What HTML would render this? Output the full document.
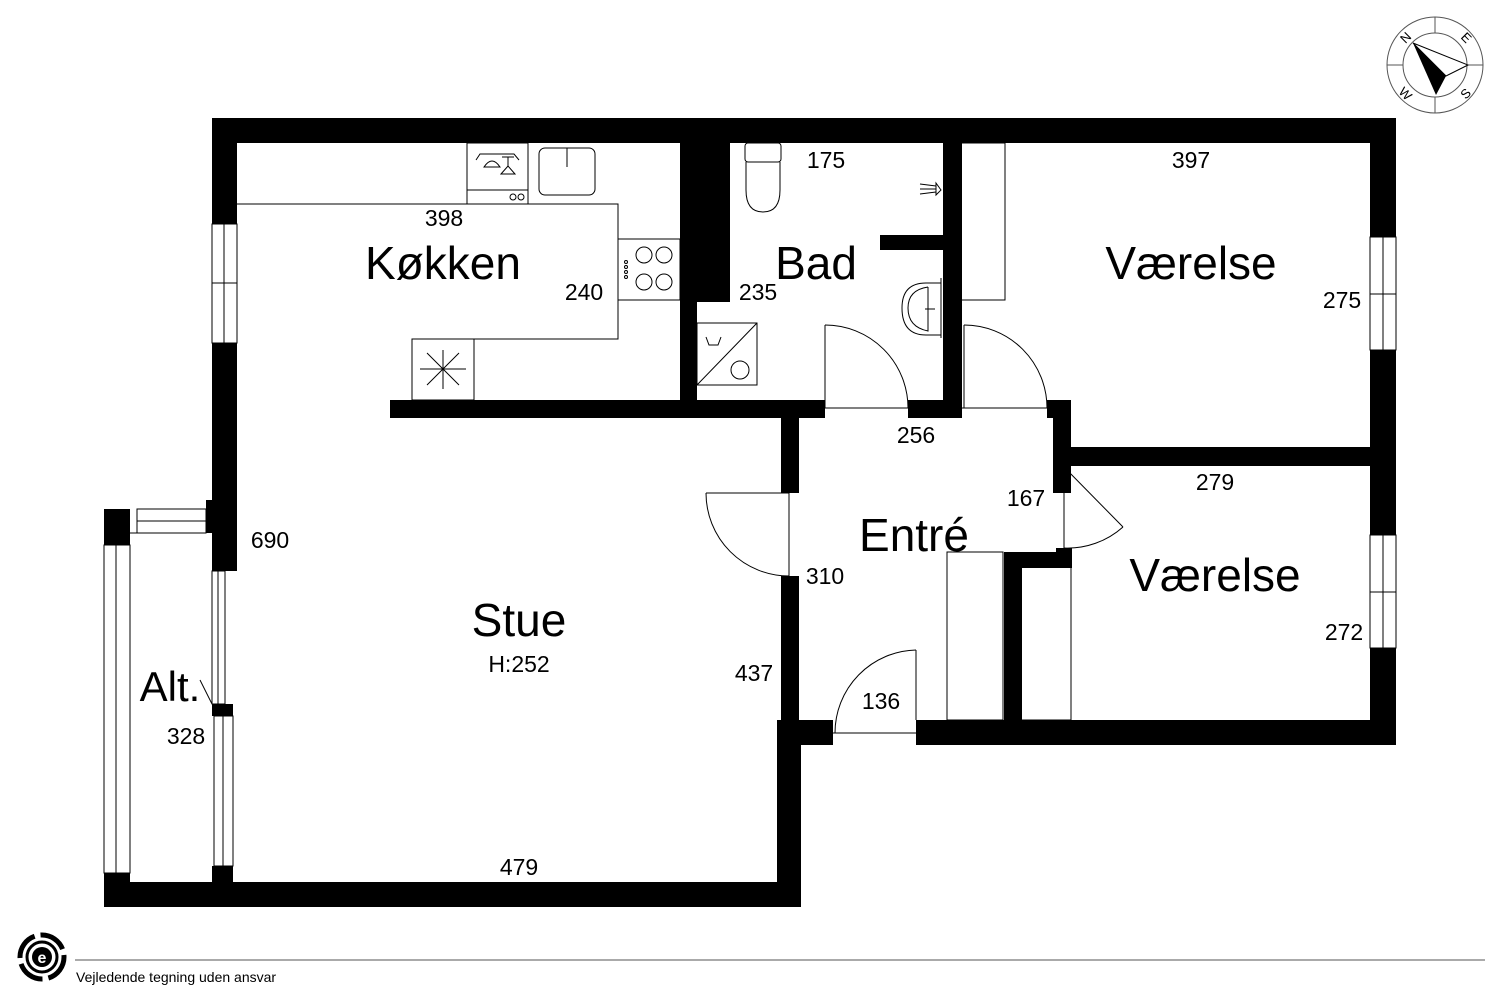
<!DOCTYPE html>
<html><head><meta charset="utf-8"><style>
html,body{margin:0;padding:0;background:#fff;}
svg{display:block;}
text{font-family:"Liberation Sans",Arial,sans-serif;fill:#000;}
</style></head><body>
<svg width="1500" height="1000" viewBox="0 0 1500 1000" xmlns="http://www.w3.org/2000/svg">
<rect width="1500" height="1000" fill="#fff"/>
<g fill="#000">
<rect x="212" y="118" width="1184" height="25"/>
<rect x="1370" y="118" width="26" height="627"/>
<rect x="212" y="118" width="25" height="453"/>
<rect x="212" y="704" width="21" height="12"/>
<rect x="212" y="866" width="21" height="41"/>
<rect x="104" y="509" width="26" height="36"/>
<rect x="206" y="500" width="31" height="33"/>
<rect x="104" y="873" width="26" height="34"/>
<rect x="104" y="882" width="697" height="25"/>
<rect x="680" y="143" width="50" height="159"/>
<rect x="680" y="143" width="17" height="275"/>
<rect x="390" y="400" width="435" height="18"/>
<rect x="908" y="400" width="54" height="18"/>
<rect x="943" y="143" width="19" height="275"/>
<rect x="880" y="235" width="63" height="15"/>
<rect x="1047" y="400" width="24" height="18"/>
<rect x="1053" y="400" width="18" height="93"/>
<rect x="1053" y="447" width="317" height="19"/>
<rect x="781" y="418" width="18" height="75"/>
<rect x="781" y="576" width="18" height="150"/>
<rect x="777" y="720" width="56" height="25"/>
<rect x="777" y="720" width="24" height="187"/>
<rect x="916" y="720" width="480" height="25"/>
<rect x="1004" y="552" width="18" height="168"/>
<rect x="1004" y="552" width="68" height="16"/>
<rect x="1056" y="548" width="16" height="20"/>
</g>
<g fill="none" stroke="#000" stroke-width="1">
<rect x="212" y="224" width="25" height="119" fill="#fff"/>
<line x1="224" y1="224" x2="224" y2="343"/>
<line x1="212" y1="283" x2="237" y2="283"/>
<rect x="212" y="571" width="13" height="133" fill="#fff"/>
<line x1="218" y1="571" x2="218" y2="704"/>
<rect x="214" y="716" width="19" height="150" fill="#fff"/>
<line x1="223" y1="716" x2="223" y2="866"/>
<rect x="137" y="509" width="69" height="24"/>
<line x1="137" y1="521" x2="206" y2="521"/>
<rect x="104" y="545" width="26" height="328"/>
<line x1="116" y1="545" x2="116" y2="873"/>
<line x1="129" y1="533" x2="206" y2="533"/>
<line x1="200" y1="680" x2="212" y2="704"/>
<rect x="1370" y="237" width="26" height="113" fill="#fff"/>
<line x1="1383" y1="237" x2="1383" y2="350"/>
<line x1="1370" y1="294" x2="1396" y2="294"/>
<rect x="1370" y="535" width="26" height="113" fill="#fff"/>
<line x1="1383" y1="535" x2="1383" y2="648"/>
<line x1="1370" y1="592" x2="1396" y2="592"/>
<polyline points="237,204 618,204 618,339 412,339 412,400"/>
<rect x="412" y="339" width="62" height="61"/>
<line x1="420" y1="369" x2="466" y2="369"/><line x1="443" y1="350" x2="443" y2="389"/>
<line x1="427" y1="353" x2="459" y2="385"/><line x1="427" y1="385" x2="459" y2="353"/>
<rect x="467" y="143" width="61" height="61"/>
<line x1="467" y1="190" x2="528" y2="190"/>
<circle cx="513" cy="197" r="3"/><circle cx="521" cy="197" r="3"/>
<path d="M476 160 L480 154 L514 154 L519 160"/>
<path d="M484 167 Q492 155 500 167 Z"/>
<line x1="502" y1="157" x2="514" y2="157"/><line x1="508" y1="157" x2="508" y2="166"/>
<path d="M501 174 L508 166 L515 174 Z"/>
<rect x="539" y="148" width="56" height="47" rx="6"/>
<line x1="567" y1="148" x2="567" y2="167"/>
<rect x="618" y="239" width="62" height="61"/>
<circle cx="644" cy="255" r="8"/><circle cx="664" cy="255" r="8"/>
<circle cx="644" cy="282" r="8"/><circle cx="664" cy="282" r="8"/>
<circle cx="626" cy="262" r="1.5"/><circle cx="626" cy="267" r="1.5"/><circle cx="626" cy="272" r="1.5"/><circle cx="626" cy="277" r="1.5"/>
<rect x="745" y="143" width="36" height="19" rx="3"/>
<path d="M746 162 L746 190 Q746 212 763 212 Q780 212 780 190 L780 162"/>
<path d="M941 190 L936 183 L936 195 Z"/>
<line x1="920" y1="184" x2="936" y2="186"/><line x1="920" y1="189" x2="936" y2="189"/><line x1="920" y1="194" x2="936" y2="192"/>
<path d="M941 283 L926 283 Q902 283 902 308 Q902 335 926 335 L941 335"/>
<path d="M928 287 Q908 290 908 308 Q908 327 928 331 L928 287"/>
<line x1="925" y1="309" x2="935" y2="309"/>
<line x1="941" y1="278" x2="941" y2="338"/>
<rect x="697" y="323" width="60" height="62"/>
<line x1="697" y1="385" x2="757" y2="323"/>
<circle cx="740" cy="370" r="9"/>
<path d="M706 337 L709 345 L718 345 L721 337"/>
<polyline points="962,143 1005,143 1005,300 962,300"/>
<line x1="825" y1="325" x2="825" y2="408"/>
<path d="M825 325 A83 83 0 0 1 908 408"/>
<line x1="825" y1="408" x2="908" y2="408"/>
<line x1="964" y1="325" x2="964" y2="408"/>
<path d="M964 325 A83 83 0 0 1 1047 408"/>
<line x1="962" y1="408" x2="1047" y2="408"/>
<line x1="706" y1="493" x2="789" y2="493"/>
<path d="M706 493 A83 83 0 0 0 789 576"/>
<line x1="789" y1="493" x2="789" y2="576"/>
<line x1="1064" y1="467" x2="1064" y2="548"/>
<line x1="1064" y1="467" x2="1123" y2="527"/>
<path d="M1123 527 A83 83 0 0 1 1064 548"/>
<line x1="916" y1="650" x2="916" y2="720"/>
<path d="M916 650 A83 83 0 0 0 835 733"/>
<line x1="833" y1="733" x2="916" y2="733"/>
<rect x="947" y="552" width="56" height="168"/>
<line x1="1071" y1="568" x2="1071" y2="720"/>
<line x1="1022" y1="720" x2="1071" y2="720"/>
</g>
<g font-size="46" text-anchor="middle">
<text x="443" y="279">Køkken</text>
<text x="816" y="279">Bad</text>
<text x="1191" y="279">Værelse</text>
<text x="1215" y="591">Værelse</text>
<text x="914" y="551">Entré</text>
<text x="519" y="636">Stue</text>
<text x="170" y="701" font-size="42">Alt.</text>
</g>
<g font-size="23" text-anchor="middle">
<text x="519" y="672">H:252</text>
<text x="444" y="226">398</text>
<text x="584" y="300">240</text>
<text x="826" y="168">175</text>
<text x="758" y="300">235</text>
<text x="1191" y="168">397</text>
<text x="1342" y="308">275</text>
<text x="916" y="443">256</text>
<text x="1215" y="490">279</text>
<text x="1026" y="506">167</text>
<text x="825" y="584">310</text>
<text x="1344" y="640">272</text>
<text x="270" y="548">690</text>
<text x="754" y="681">437</text>
<text x="881" y="709">136</text>
<text x="186" y="744">328</text>
<text x="519" y="875">479</text>
</g>
<g fill="none" stroke="#555" stroke-width="1">
<circle cx="1435" cy="65" r="48"/>
<circle cx="1435" cy="65" r="32"/>
<line x1="1435" y1="17" x2="1435" y2="33"/><line x1="1435" y1="97" x2="1435" y2="113"/>
<line x1="1387" y1="65" x2="1403" y2="65"/><line x1="1467" y1="65" x2="1483" y2="65"/>
</g>
<polygon points="1413,43 1468,65 1446,76" fill="none" stroke="#000"/>
<polygon points="1413,43 1446,76 1436,95" fill="#000"/>
<g font-size="13" text-anchor="middle">
<text x="1406" y="42" transform="rotate(-45 1406 38)">N</text>
<text x="1466" y="42" transform="rotate(45 1466 38)">E</text>
<text x="1466" y="98" transform="rotate(-45 1466 94)">S</text>
<text x="1405" y="98" transform="rotate(45 1405 94)">W</text>
</g>
<line x1="75" y1="960" x2="1485" y2="960" stroke="#555" stroke-width="1"/>
<text x="76" y="982" font-size="14">Vejledende tegning uden ansvar</text>
<circle cx="42" cy="957" r="22" fill="none" stroke="#000" stroke-width="5" stroke-dasharray="28 6"/>
<circle cx="42" cy="957" r="15" fill="none" stroke="#000" stroke-width="3"/>
<circle cx="42" cy="957" r="10" fill="#000"/>
<text x="42" y="963" font-size="16" font-weight="bold" text-anchor="middle" style="fill:#fff">e</text>
</svg>
</body></html>
